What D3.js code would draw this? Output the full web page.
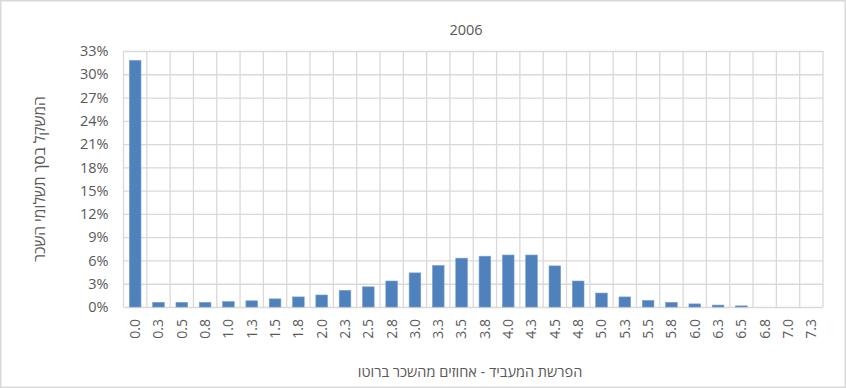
<!DOCTYPE html>
<html>
<head>
<meta charset="utf-8">
<script src="https://cdn.jsdelivr.net/npm/d3@7"></script>
<style>
  body { margin: 0; background: #fff; }
  svg text { font-family: "Open Sans", "Liberation Sans", "DejaVu Sans", sans-serif; fill: #595959; }
</style>
</head>
<body>
<div id="chart"></div>
<script>
// data
var categories = ["0.0","0.3","0.5","0.8","1.0","1.3","1.5","1.8","2.0","2.3",
                  "2.5","2.8","3.0","3.3","3.5","3.8","4.0","4.3","4.5","4.8",
                  "5.0","5.3","5.5","5.8","6.0","6.3","6.5","6.8","7.0","7.3"];
var shares = [31.8, 0.6, 0.6, 0.6, 0.7, 0.8, 1.05, 1.3, 1.55, 2.15,
              2.6, 3.35, 4.4, 5.35, 6.3, 6.55, 6.7, 6.7, 5.3, 3.35,
              1.8, 1.3, 0.85, 0.6, 0.4, 0.25, 0.15, 0, 0, 0];
var yTicks = [0, 3, 6, 9, 12, 15, 18, 21, 24, 27, 30, 33];

var chartTitle = "2006";
var xTitle = "הפרשת המעביד - אחוזים מהשכר ברוטו";
var yTitle = "המשקל בסך תשלומי השכר";

var W = 846, H = 388;
var margin = { top: 51, right: 23, bottom: 81, left: 123.5 };
var width = W - margin.left - margin.right;
var height = H - margin.top - margin.bottom;

var svg = d3.select('#chart').append('svg')
	.attr('width', W)
	.attr('height', H);

// outer frame
svg.append('rect')
	.attr('x', 0.75).attr('y', 0.75)
	.attr('width', W - 1.5).attr('height', H - 1.5)
	.attr('fill', '#fff')
	.attr('stroke', '#d9d9d9')
	.attr('stroke-width', 1.5);

var g = svg.append('g').attr('transform', 'translate(' + margin.left + ',' + margin.top + ')');

var x = d3.scaleBand().domain(categories).range([0, width]).padding(0);
var y = d3.scaleLinear().domain([0, 33]).range([height, 0]);

// horizontal grid + y labels
var yAxis = g.append('g')
	.call(d3.axisLeft(y).tickValues(yTicks).tickFormat(function(d) { return d + '%'; })
		.tickSize(-width).tickPadding(15));
yAxis.select('.domain').remove();
yAxis.selectAll('line').attr('stroke', '#d9d9d9').attr('stroke-width', 1.3);
yAxis.selectAll('text').attr('font-size', 14.5);

// vertical grid at category boundaries
var bounds = categories.map(function(c) { return x(c); }).concat([width]);
g.append('g').selectAll('line')
	.data(bounds)
	.enter()
	.append('line')
	.attr('x1', function(d) { return d; })
	.attr('x2', function(d) { return d; })
	.attr('y1', 0)
	.attr('y2', height)
	.attr('stroke', '#d9d9d9')
	.attr('stroke-width', 1.3);

// bars
var bw = x.bandwidth();
g.append('g').selectAll('rect')
	.data(shares)
	.enter()
	.append('rect')
	.attr('x', function(d, i) { return x(categories[i]) + bw * 0.25; })
	.attr('width', bw * 0.5)
	.attr('y', function(d) { return y(d); })
	.attr('height', function(d) { return height - y(d); })
	.attr('fill', '#4f81bd')
	.attr('stroke', '#7ba0d0')
	.attr('stroke-width', 0.6);

// x labels, rotated
var xAxis = g.append('g')
	.attr('transform', 'translate(0,' + height + ')')
	.call(d3.axisBottom(x).tickSize(0).tickPadding(0));
xAxis.select('.domain').remove();
xAxis.selectAll('text')
	.attr('font-size', 14)
	.attr('text-anchor', 'end')
	.attr('transform', 'rotate(-90)')
	.attr('x', -12)
	.attr('y', 0)
	.attr('dy', '0.35em');

// titles
svg.append('text')
	.attr('x', 466).attr('y', 35)
	.attr('text-anchor', 'middle')
	.attr('font-size', 14.5)
	.text(chartTitle);

svg.append('text')
	.attr('x', 470).attr('y', 377)
	.attr('text-anchor', 'middle')
	.attr('font-size', 14.5)
	.attr('direction', 'rtl')
	.text(xTitle);

svg.append('text')
	.attr('transform', 'translate(45,' + (margin.top + height / 2) + ') rotate(-90)')
	.attr('text-anchor', 'middle')
	.attr('font-size', 15.5)
	.attr('direction', 'rtl')
	.text(yTitle);
</script>
</body>
</html>
